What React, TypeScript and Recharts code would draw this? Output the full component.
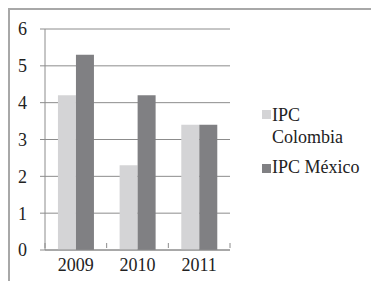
import React from "react";
import { BarChart, Bar, XAxis, YAxis, CartesianGrid } from "recharts";

const years = ["2009", "2010", "2011"];
const ipcColombia = [4.2, 2.3, 3.4];
const ipcMexico = [5.3, 4.2, 3.4];
const yTicks = [0, 1, 2, 3, 4, 5, 6];
const seriesNames = ["IPC Colombia", "IPC México"];

const data = years.map((y, i) => ({ year: y, col: ipcColombia[i], mex: ipcMexico[i] }));

const COL = "#d4d4d6";
const MEX = "#808083";
const GRID = "#8c8c8c";

// chart coordinates are relative to the page offset (8, 8)
const PLOT_LEFT = 37;
const PLOT_RIGHT = 222;
const BAND = (PLOT_RIGHT - PLOT_LEFT) / years.length;

const XTick = (props: any) => {
  const { x, y, payload, index } = props;
  const axisY = y - 15;
  return (
    <g>
      <line x1={x - BAND / 2} x2={x - BAND / 2} y1={axisY} y2={axisY + 5} stroke={GRID} />
      {index === years.length - 1 && (
        <line x1={x + BAND / 2} x2={x + BAND / 2} y1={axisY} y2={axisY + 5} stroke={GRID} />
      )}
      <text x={x} y={axisY + 28} textAnchor="middle" fill="#222" style={{ fontSize: 18, fontFamily: '"Liberation Serif", monospace' }}>
        {payload.value}
      </text>
    </g>
  );
};

const YTick = (props: any) => {
  const { x, y, payload } = props;
  return (
    <text x={x} y={y} dy="0.355em" textAnchor="end" fill="#222" style={{ fontSize: 18, fontFamily: '"Liberation Serif", monospace' }}>
      {payload.value}
    </text>
  );
};

export default function App() {
  return (
    <div
      style={{
        position: "relative",
        width: 363,
        height: 273,
        overflow: "hidden",
        boxSizing: "border-box",
        borderLeft: "2px solid #a8a8a8",
        borderTop: "2px solid #a8a8a8",
      }}
    >
      <div style={{ position: "absolute", left: -2, top: -2 }}>
        <BarChart
          width={371}
          height={281}
          data={data}
          margin={{ top: 21, right: 371 - PLOT_RIGHT, left: 0, bottom: 9 }}
          barCategoryGap="21%"
          barGap={0}
        >
          <CartesianGrid horizontal vertical={false} stroke={GRID} strokeWidth={1} />
          <XAxis
            dataKey="year"
            height={30}
            axisLine={{ stroke: GRID }}
            tickLine={false}
            tick={<XTick />}
            interval={0}
          />
          <YAxis
            width={PLOT_LEFT}
            domain={[0, 6]}
            ticks={yTicks}
            axisLine={{ stroke: GRID }}
            tickLine={{ stroke: GRID }}
            tickSize={5}
            tickMargin={13}
            tick={<YTick />}
          />
          <Bar dataKey="col" name={seriesNames[0]} fill={COL} isAnimationActive={false} />
          <Bar dataKey="mex" name={seriesNames[1]} fill={MEX} isAnimationActive={false} />
        </BarChart>
      </div>
      <div style={{ position: "absolute", left: 252, top: 100, width: 9, height: 9, background: COL }} />
      <div
        style={{
          position: "absolute",
          left: 262,
          top: 94,
          fontFamily: '"Liberation Serif", monospace',
          fontSize: 18,
          lineHeight: "22px",
          color: "#222",
          whiteSpace: "nowrap",
        }}
      >
        IPC
        <br />
        Colombia
      </div>
      <div style={{ position: "absolute", left: 252, top: 154, width: 9, height: 9, background: MEX }} />
      <div
        style={{
          position: "absolute",
          left: 262,
          top: 146,
          fontFamily: '"Liberation Serif", monospace',
          fontSize: 18,
          lineHeight: "22px",
          color: "#222",
          whiteSpace: "nowrap",
        }}
      >
        IPC México
      </div>
    </div>
  );
}
